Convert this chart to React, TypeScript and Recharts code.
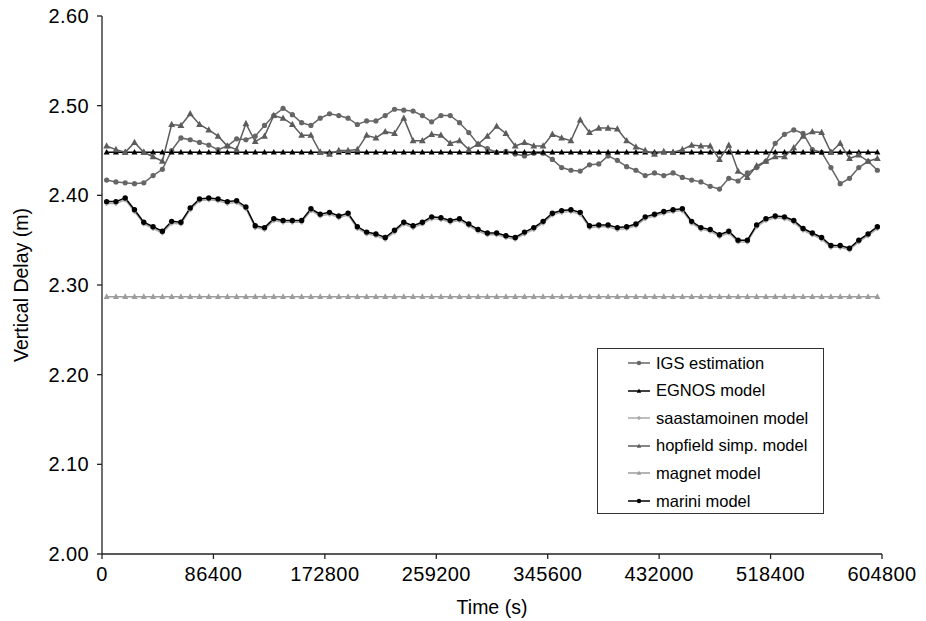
import React from "react";
import { LineChart, Line, XAxis, YAxis } from "recharts";

// sample times (s): one sample every 2 h over one week
const timeS = [
  3600, 10800, 18000, 25200, 32400, 39600, 46800, 54000, 61200, 68400,
  75600, 82800, 90000, 97200, 104400, 111600, 118800, 126000, 133200, 140400,
  147600, 154800, 162000, 169200, 176400, 183600, 190800, 198000, 205200, 212400,
  219600, 226800, 234000, 241200, 248400, 255600, 262800, 270000, 277200, 284400,
  291600, 298800, 306000, 313200, 320400, 327600, 334800, 342000, 349200, 356400,
  363600, 370800, 378000, 385200, 392400, 399600, 406800, 414000, 421200, 428400,
  435600, 442800, 450000, 457200, 464400, 471600, 478800, 486000, 493200, 500400,
  507600, 514800, 522000, 529200, 536400, 543600, 550800, 558000, 565200, 572400,
  579600, 586800, 594000, 601200,
];

const igs = [
  2.417, 2.415, 2.414, 2.413, 2.414, 2.422, 2.429, 2.450, 2.464, 2.462,
  2.459, 2.456, 2.451, 2.455, 2.463, 2.462, 2.466, 2.478, 2.489, 2.497,
  2.490, 2.481, 2.478, 2.486, 2.491, 2.489, 2.486, 2.479, 2.483, 2.483,
  2.489, 2.496, 2.495, 2.494, 2.489, 2.482, 2.489, 2.489, 2.481, 2.470,
  2.457, 2.452, 2.448, 2.449, 2.446, 2.444, 2.447, 2.447, 2.440, 2.431,
  2.428, 2.427, 2.434, 2.435, 2.444, 2.439, 2.432, 2.428, 2.422, 2.425,
  2.422, 2.425, 2.420, 2.417, 2.415, 2.410, 2.407, 2.419, 2.416, 2.425,
  2.431, 2.438, 2.458, 2.468, 2.473, 2.469, 2.451, 2.448, 2.431, 2.413,
  2.419, 2.431, 2.438, 2.428,
];

const egnosLevel = 2.448;
const magnetLevel = 2.287;

const hopfield = [
  2.455, 2.451, 2.448, 2.459, 2.448, 2.443, 2.438, 2.479, 2.478, 2.491,
  2.479, 2.473, 2.466, 2.455, 2.451, 2.480, 2.460, 2.466, 2.489, 2.486,
  2.479, 2.467, 2.467, 2.448, 2.446, 2.450, 2.450, 2.451, 2.467, 2.464,
  2.471, 2.469, 2.486, 2.461, 2.461, 2.468, 2.467, 2.458, 2.461, 2.451,
  2.457, 2.466, 2.477, 2.469, 2.455, 2.459, 2.455, 2.455, 2.468, 2.464,
  2.461, 2.484, 2.470, 2.475, 2.475, 2.474, 2.461, 2.454, 2.450, 2.446,
  2.449, 2.448, 2.451, 2.456, 2.455, 2.455, 2.440, 2.456, 2.427, 2.420,
  2.433, 2.438, 2.443, 2.443, 2.453, 2.466, 2.471, 2.470, 2.448, 2.458,
  2.441, 2.445, 2.438, 2.441,
];

const marini = [
  2.393, 2.393, 2.397, 2.384, 2.370, 2.365, 2.360, 2.371, 2.370, 2.386,
  2.396, 2.397, 2.396, 2.393, 2.394, 2.387, 2.366, 2.364, 2.374, 2.372,
  2.372, 2.372, 2.385, 2.379, 2.381, 2.377, 2.380, 2.365, 2.359, 2.357,
  2.353, 2.361, 2.370, 2.366, 2.370, 2.376, 2.375, 2.372, 2.374, 2.368,
  2.362, 2.358, 2.358, 2.355, 2.353, 2.359, 2.364, 2.371, 2.380, 2.383,
  2.384, 2.381, 2.366, 2.367, 2.367, 2.364, 2.365, 2.368, 2.376, 2.379,
  2.382, 2.384, 2.385, 2.371, 2.364, 2.362, 2.356, 2.360, 2.350, 2.350,
  2.367, 2.374, 2.377, 2.376, 2.372, 2.363, 2.358, 2.353, 2.344, 2.344,
  2.341, 2.350, 2.357, 2.365,
];

const saastamoinen = [
  2.391, 2.391, 2.395, 2.382, 2.368, 2.363, 2.358, 2.369, 2.368, 2.384,
  2.394, 2.395, 2.394, 2.391, 2.392, 2.385, 2.364, 2.362, 2.372, 2.370,
  2.370, 2.370, 2.383, 2.377, 2.379, 2.375, 2.378, 2.363, 2.357, 2.355,
  2.351, 2.359, 2.368, 2.364, 2.368, 2.374, 2.373, 2.370, 2.372, 2.366,
  2.360, 2.356, 2.356, 2.353, 2.351, 2.357, 2.362, 2.369, 2.378, 2.381,
  2.382, 2.379, 2.364, 2.365, 2.365, 2.362, 2.363, 2.366, 2.374, 2.377,
  2.380, 2.382, 2.383, 2.369, 2.362, 2.360, 2.354, 2.358, 2.348, 2.348,
  2.365, 2.372, 2.375, 2.374, 2.370, 2.361, 2.356, 2.351, 2.342, 2.342,
  2.339, 2.348, 2.355, 2.363,
];

const xTicks = [0, 86400, 172800, 259200, 345600, 432000, 518400, 604800];
const yTicks = [2.0, 2.1, 2.2, 2.3, 2.4, 2.5, 2.6];

const rows = timeS.map((t, i) => ({
  t,
  igs: igs[i],
  egnos: egnosLevel,
  saast: saastamoinen[i],
  hopfield: hopfield[i],
  magnet: magnetLevel,
  marini: marini[i],
}));

const FONT = "'Liberation Sans', Arial, sans-serif";

type Marker = "circle" | "triangle" | "diamond";

function markerShape(kind: Marker, cx: number, cy: number, s: number, fill: string, key?: any) {
  if (kind === "circle") return <circle key={key} cx={cx} cy={cy} r={s} fill={fill} />;
  if (kind === "triangle")
    return (
      <polygon
        key={key}
        points={`${cx},${cy - s * 1.1} ${cx - s},${cy + s * 0.75} ${cx + s},${cy + s * 0.75}`}
        fill={fill}
      />
    );
  return (
    <polygon
      key={key}
      points={`${cx},${cy - s} ${cx - s},${cy} ${cx},${cy + s} ${cx + s},${cy}`}
      fill={fill}
    />
  );
}

const series = [
  { key: "igs", name: "IGS estimation", color: "#666666", marker: "circle" as Marker, size: 2.6 },
  { key: "egnos", name: "EGNOS model", color: "#000000", marker: "triangle" as Marker, size: 3 },
  { key: "saast", name: "saastamoinen model", color: "#aaaaaa", marker: "diamond" as Marker, size: 2.8 },
  { key: "hopfield", name: "hopfield simp. model", color: "#5c5c5c", marker: "triangle" as Marker, size: 3.4 },
  { key: "magnet", name: "magnet model", color: "#9c9c9c", marker: "triangle" as Marker, size: 3 },
  { key: "marini", name: "marini model", color: "#000000", marker: "circle" as Marker, size: 2.7 },
];

function LegendBox() {
  return (
    <div
      style={{
        position: "absolute",
        left: 597,
        top: 348,
        width: 225,
        height: 164,
        border: "1.5px solid #333",
        background: "#fff",
        fontFamily: FONT,
        fontSize: 16.5,
        color: "#000",
      }}
    >
      {series.map((s, i) => (
        <div
          key={s.key}
          style={{
            position: "absolute",
            left: 30,
            top: 14 + i * 27.6 - 11,
            height: 22,
            display: "flex",
            alignItems: "center",
            whiteSpace: "nowrap",
          }}
        >
          <svg width={22} height={10} style={{ marginRight: 6 }}>
            <line x1={0} y1={5} x2={22} y2={5} stroke={s.color} strokeWidth={1.5} />
            {markerShape(s.marker, 11, 5, 2.2, s.color)}
          </svg>
          <span>{s.name}</span>
        </div>
      ))}
    </div>
  );
}

const tickStyle = { fontSize: 20, fill: "#000", letterSpacing: 0.4 };

export default function App() {
  return (
    <div style={{ position: "relative", width: 926, height: 621, background: "#fff" }}>
      <style>{`body { margin: 0; }`}</style>
      <LineChart
        width={926}
        height={621}
        data={rows}
        margin={{ top: 16, right: 44, bottom: 0, left: 0 }}
        style={{ fontFamily: FONT }}
      >
        <XAxis
          dataKey="t"
          type="number"
          domain={[0, 604800]}
          ticks={xTicks}
          interval={0}
          height={67}
          tickSize={5}
          tickMargin={8}
          stroke="#222"
          strokeWidth={1.3}
          tick={tickStyle}
          label={{
            content: (p: any) => {
              const vb = p.viewBox;
              return (
                <text x={vb.x + vb.width / 2} y={vb.y + 60} textAnchor="middle" fontSize={19.5} fill="#000">
                  Time (s)
                </text>
              );
            },
          }}
        />
        <YAxis
          type="number"
          domain={[2, 2.6]}
          ticks={yTicks}
          interval={0}
          width={102}
          tickSize={5}
          tickMargin={8}
          stroke="#222"
          strokeWidth={1.3}
          allowDataOverflow
          tickFormatter={(v: number) => v.toFixed(2)}
          tick={tickStyle}
          label={{
            content: (p: any) => {
              const vb = p.viewBox;
              const x = vb.x + 28;
              const y = vb.y + vb.height / 2;
              return (
                <text
                  x={x}
                  y={y}
                  transform={`rotate(-90, ${x}, ${y})`}
                  textAnchor="middle"
                  fontSize={19.5}
                  fill="#000"
                >
                  Vertical Delay (m)
                </text>
              );
            },
          }}
        />
        {series.map((s) => (
          <Line
            key={s.key}
            dataKey={s.key}
            name={s.name}
            type="linear"
            stroke={s.color}
            strokeWidth={1.5}
            isAnimationActive={false}
            dot={(p: any) => markerShape(s.marker, p.cx, p.cy, s.size, s.color, `${s.key}-${p.index}`)}
            activeDot={false}
          />
        ))}
      </LineChart>
      <LegendBox />
    </div>
  );
}
